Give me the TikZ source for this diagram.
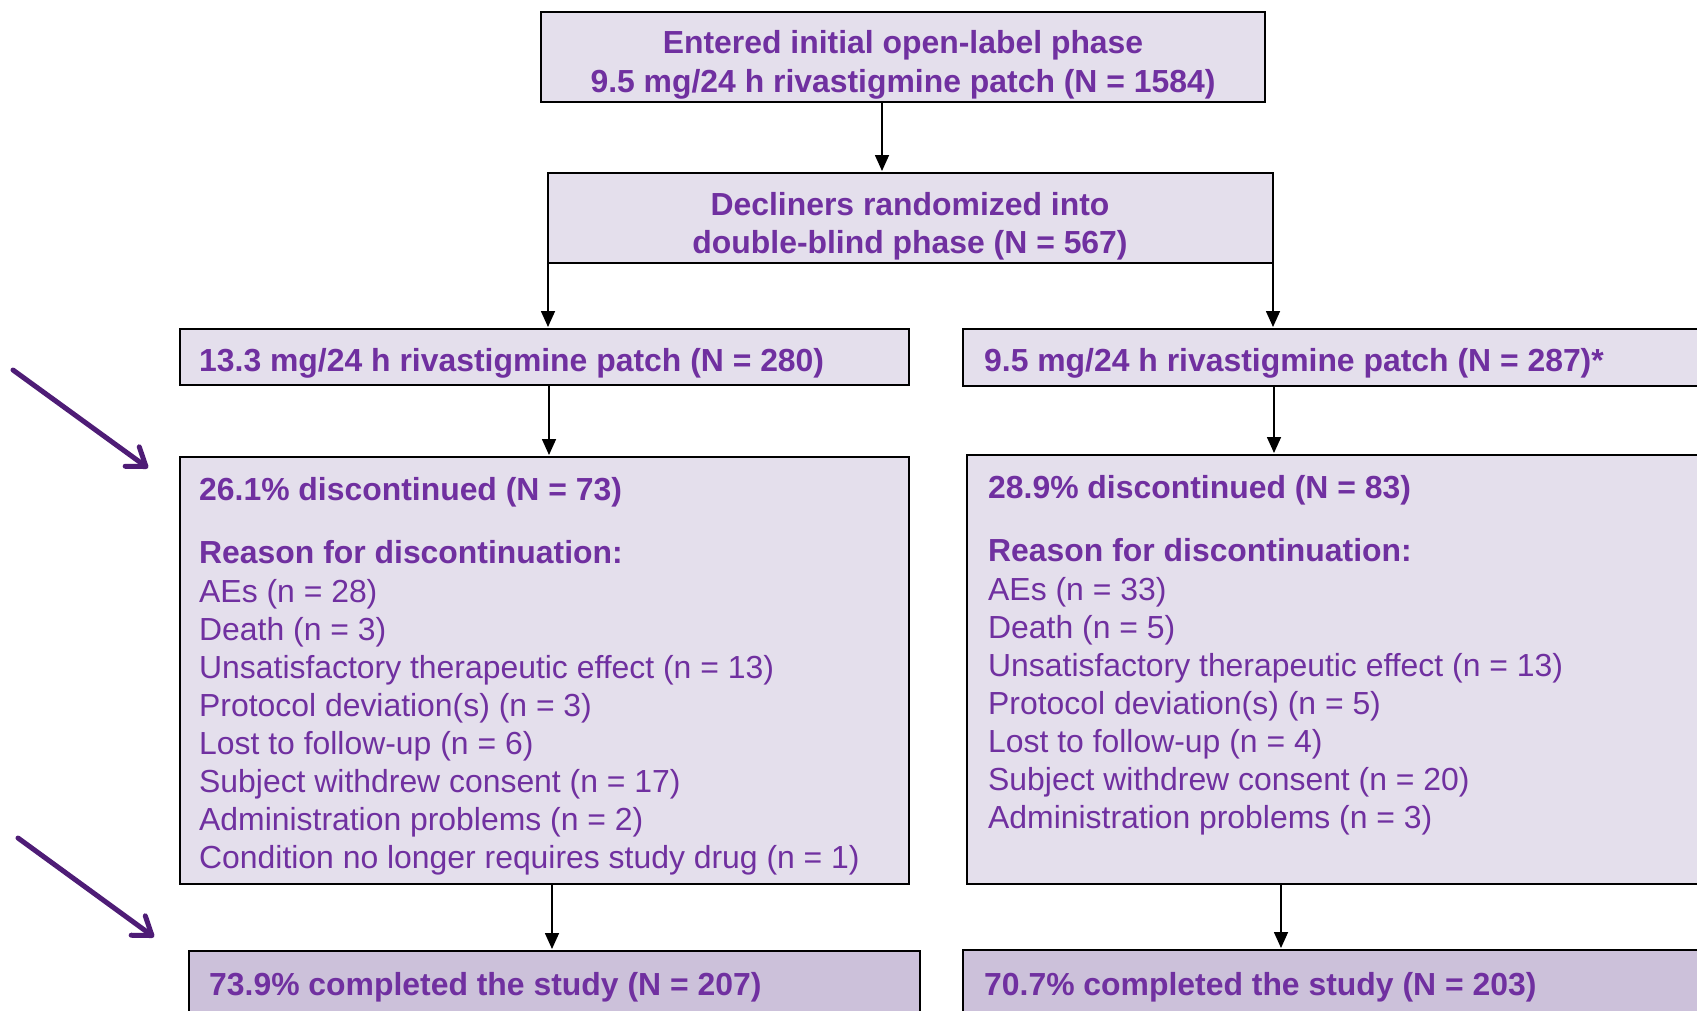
\documentclass[tikz,border=0pt]{standalone}
\usepackage{fontspec}
\setmainfont{Liberation Sans}
\usetikzlibrary{arrows.meta}
\definecolor{txtpurple}{RGB}{112,48,160}
\definecolor{boxfill}{RGB}{228,223,236}
\definecolor{donefill}{RGB}{204,193,218}
\definecolor{arrpurple}{RGB}{78,28,118}
\begin{document}
\begin{tikzpicture}[x=1pt,y=-1pt,
  box/.style={draw=black,line width=1.4pt,fill=boxfill,anchor=north west,inner sep=0pt,outer sep=0pt},
  donebox/.style={box,fill=donefill},
  txt/.style={anchor=base west,inner sep=0pt,text=txtpurple,font=\fontsize{31.9}{38}\selectfont},
  btxt/.style={txt,font=\fontsize{31.9}{38}\selectfont\bfseries},
  ctxt/.style={btxt,anchor=base},
  arr/.style={draw=black,line width=1.6pt,shorten >=2pt,-{Triangle[length=16pt,width=14pt]}},
  parr/.style={draw=arrpurple,line width=5pt,line cap=round,-{Straight Barb[length=17pt,width=24pt,round]}}]
\clip (0,0) rectangle (1697,1010);
\fill[white] (0,0) rectangle (1697,1010);
% boxes
\node[box,minimum width=724pt,minimum height=90pt] (top) at (541,12) {};
\node[box,minimum width=725pt,minimum height=90pt] (dec) at (548,173) {};
\node[box,minimum width=729pt,minimum height=56pt] (l3) at (180,329) {};
\node[box,minimum width=760pt,minimum height=57pt] (r3) at (963,329) {};
\node[box,minimum width=729pt,minimum height=427pt] (l4) at (180,457) {};
\node[box,minimum width=760pt,minimum height=429pt] (r4) at (967,455) {};
\node[donebox,minimum width=731pt,minimum height=90pt] (l5) at (189,951) {};
\node[donebox,minimum width=760pt,minimum height=90pt] (r5) at (963,950) {};
% texts
\node[ctxt] (t1a) at (903,53) {Entered initial open-label phase};
\node[ctxt] (t1b) at (903,92) {9.5 mg/24 h rivastigmine patch (N = 1584)};
\node[ctxt] (t2a) at (910,215) {Decliners randomized into};
\node[ctxt] (t2b) at (910,253) {double-blind phase (N = 567)};
\node[btxt] (t3l) at (199,371) {13.3 mg/24 h rivastigmine patch (N = 280)};
\node[btxt] (t3r) at (984,371) {9.5 mg/24 h rivastigmine patch (N = 287)*};
\node[btxt] (t4l) at (199,500) {26.1\% discontinued (N = 73)};
\node[btxt] (t4lr) at (199,563) {Reason for discontinuation:};
\foreach \s [count=\i] in {AEs (n = 28),Death (n = 3),Unsatisfactory therapeutic effect (n = 13),Protocol deviation(s) (n = 3),Lost to follow-up (n = 6),Subject withdrew consent (n = 17),Administration problems (n = 2),Condition no longer requires study drug (n = 1)}
  \node[txt] (ll\i) at (199,{602+38.1*(\i-1)}) {\s};
\node[btxt] (t4r) at (988,498) {28.9\% discontinued (N = 83)};
\node[btxt] (t4rr) at (988,561) {Reason for discontinuation:};
\foreach \s [count=\i] in {AEs (n = 33),Death (n = 5),Unsatisfactory therapeutic effect (n = 13),Protocol deviation(s) (n = 5),Lost to follow-up (n = 4),Subject withdrew consent (n = 20),Administration problems (n = 3)}
  \node[txt] (rl\i) at (988,{600+38.1*(\i-1)}) {\s};
\node[btxt] (t5l) at (209,995) {73.9\% completed the study (N = 207)};
\node[btxt] (t5r) at (984,995) {70.7\% completed the study (N = 203)};
% connectors
\coordinate (c1) at (882,0);
\coordinate (c2) at (549,0);
\coordinate (c3) at (1274,0);
\coordinate (c4) at (552,0);
\coordinate (c5) at (1281,0);
\draw[arr] (top.south -| c1) -- (dec.north -| c1);
\draw[arr] (dec.south west) -- (dec.south west |- l3.north);
\draw[arr] (dec.south east) -- (dec.south east |- r3.north);
\draw[arr] (l3.south -| c2) -- (l4.north -| c2);
\draw[arr] (r3.south -| c3) -- (r4.north -| c3);
\draw[arr] (l4.south -| c4) -- (l5.north -| c4);
\draw[arr] (r4.south -| c5) -- (r5.north -| c5);
% purple pointer arrows
\coordinate (pa1) at (13,370);
\coordinate (pb1) at (148,468);
\coordinate (pa2) at (18,838);
\coordinate (pb2) at (154,937);
\draw[parr] (pa1) -- (pb1);
\draw[parr] (pa2) -- (pb2);
\end{tikzpicture}
\end{document}
